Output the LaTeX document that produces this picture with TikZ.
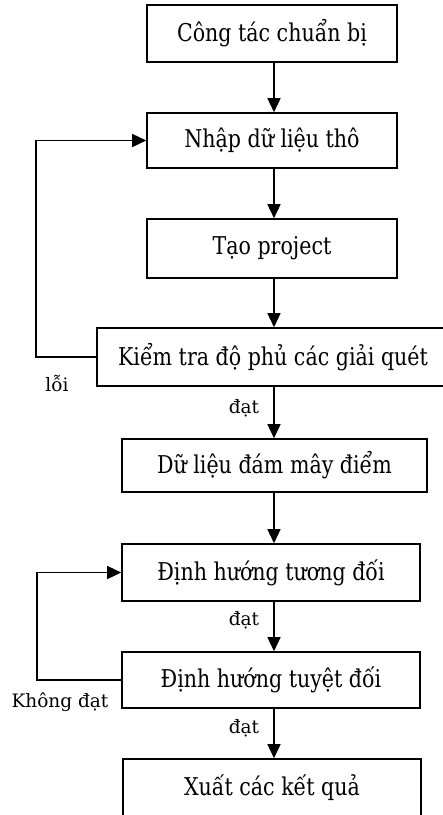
\documentclass[tikz,border=0pt]{standalone}
\usepackage{fontspec}
\setmainfont[FakeStretch=0.84]{DejaVu Serif}
\newfontfamily\lblfont{DejaVu Serif}
\usetikzlibrary{arrows.meta}
\begin{document}
\begin{tikzpicture}[x=1pt,y=-1pt,
  box/.style={draw, line width=1.6pt, minimum height=#1, inner sep=0pt, font=\fontsize{24.5}{28}\selectfont},
  lbl/.style={inner sep=0pt, font=\lblfont\fontsize{18.5}{21}\selectfont},
  conn/.style={line width=1.5pt, -{Triangle[length=14pt,width=13pt]}}]
\useasboundingbox (0,0) rectangle (443,815);
\coordinate (ax) at (274,0);
\node[box=57pt, minimum width=250pt] (b1) at (272,33.5) {Công tác chuẩn bị};
\node[box=55pt, minimum width=250pt] (b2) at (272,140.5) {Nhập dữ liệu thô};
\node[box=59pt, minimum width=250pt] (b3) at (272,248.5) {Tạo project};
\node[box=58pt, minimum width=352pt] (b4) at (273,357) {Kiểm tra độ phủ các giải quét};
\node[box=53pt, minimum width=305pt] (b5) at (274.5,465.5) {Dữ liệu đám mây điểm};
\node[box=57pt, minimum width=298pt] (b6) at (271,572.5) {Định hướng tương đối};
\node[box=56pt, minimum width=298pt] (b7) at (271,680) {Định hướng tuyệt đối};
\node[box=57pt, minimum width=298pt] (b8) at (272,787.5) {Xuất các kết quả};
\draw[conn] (b1.south -| ax) -- (b2.north -| ax);
\draw[conn] (b2.south -| ax) -- (b3.north -| ax);
\draw[conn] (b3.south -| ax) -- (b4.north -| ax);
\draw[conn] (b4.south -| ax) -- (b5.north -| ax);
\draw[conn] (b5.south -| ax) -- (b6.north -| ax);
\draw[conn] (b6.south -| ax) -- (b7.north -| ax);
\draw[conn] (b7.south -| ax) -- (b8.north -| ax);
\coordinate (l1) at (36,0);
\coordinate (l2) at (37,0);
\draw[conn] (b4.west) -- (b4.west -| l1) -- (b2.west -| l1) -- (b2.west);
\draw[conn] (b7.west) -- (b7.west -| l2) -- (b6.west -| l2) -- (b6.west);
\node[lbl] (t1) at (57,384) {lỗi};
\node[lbl] (t2) at (244,408) {đạt};
\node[lbl] (t3) at (244,620) {đạt};
\node[lbl] (t4) at (60,702) {Không đạt};
\node[lbl] (t5) at (244,728) {đạt};
\end{tikzpicture}
\end{document}
